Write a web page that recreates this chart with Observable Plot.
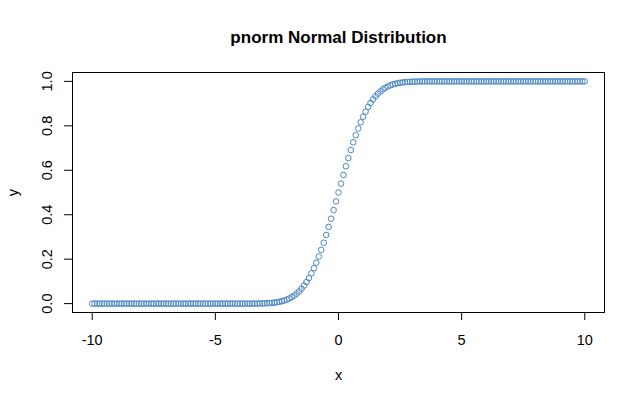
<!DOCTYPE html>
<html>
<head>
<meta charset="utf-8">
<script src="https://cdn.jsdelivr.net/npm/d3@7"></script>
<script src="https://cdn.jsdelivr.net/npm/@observablehq/plot@0.6"></script>
<style>
  html, body { margin: 0; padding: 0; background: white; }
</style>
</head>
<body>
<div id="chart"></div>
<script>
const titleText = "pnorm Normal Distribution";
const xLabel = "x";
const yLabel = "y";
const xTicks = [-10, -5, 0, 5, 10];
const xTickLabels = ["-10", "-5", "0", "5", "10"];
const yTicks = [0, 0.2, 0.4, 0.6, 0.8, 1.0];
const yTickLabels = ["0.0", "0.2", "0.4", "0.6", "0.8", "1.0"];

const xs = [
  -10.0, -9.9, -9.8, -9.7, -9.6, -9.5, -9.4, -9.3, -9.2, -9.1,
  -9.0, -8.9, -8.8, -8.7, -8.6, -8.5, -8.4, -8.3, -8.2, -8.1,
  -8.0, -7.9, -7.8, -7.7, -7.6, -7.5, -7.4, -7.3, -7.2, -7.1,
  -7.0, -6.9, -6.8, -6.7, -6.6, -6.5, -6.4, -6.3, -6.2, -6.1,
  -6.0, -5.9, -5.8, -5.7, -5.6, -5.5, -5.4, -5.3, -5.2, -5.1,
  -5.0, -4.9, -4.8, -4.7, -4.6, -4.5, -4.4, -4.3, -4.2, -4.1,
  -4.0, -3.9, -3.8, -3.7, -3.6, -3.5, -3.4, -3.3, -3.2, -3.1,
  -3.0, -2.9, -2.8, -2.7, -2.6, -2.5, -2.4, -2.3, -2.2, -2.1,
  -2.0, -1.9, -1.8, -1.7, -1.6, -1.5, -1.4, -1.3, -1.2, -1.1,
  -1.0, -0.9, -0.8, -0.7, -0.6, -0.5, -0.4, -0.3, -0.2, -0.1,
  0.0,
  0.1, 0.2, 0.3, 0.4, 0.5, 0.6, 0.7, 0.8, 0.9, 1.0,
  1.1, 1.2, 1.3, 1.4, 1.5, 1.6, 1.7, 1.8, 1.9, 2.0,
  2.1, 2.2, 2.3, 2.4, 2.5, 2.6, 2.7, 2.8, 2.9, 3.0,
  3.1, 3.2, 3.3, 3.4, 3.5, 3.6, 3.7, 3.8, 3.9, 4.0,
  4.1, 4.2, 4.3, 4.4, 4.5, 4.6, 4.7, 4.8, 4.9, 5.0,
  5.1, 5.2, 5.3, 5.4, 5.5, 5.6, 5.7, 5.8, 5.9, 6.0,
  6.1, 6.2, 6.3, 6.4, 6.5, 6.6, 6.7, 6.8, 6.9, 7.0,
  7.1, 7.2, 7.3, 7.4, 7.5, 7.6, 7.7, 7.8, 7.9, 8.0,
  8.1, 8.2, 8.3, 8.4, 8.5, 8.6, 8.7, 8.8, 8.9, 9.0,
  9.1, 9.2, 9.3, 9.4, 9.5, 9.6, 9.7, 9.8, 9.9, 10.0
];

const ys = [
  0, 0, 0, 0, 0, 0, 0, 0, 0, 0,
  0, 0, 0, 0, 0, 0, 0, 0, 0, 0,
  0, 0, 0, 0, 0, 0, 0, 0, 0, 0,
  0, 0, 0, 0, 0, 0, 0, 0, 0, 0,
  0, 0, 0, 0, 0, 0, 0, 0, 0, 0,
  0, 0, 0, 0, 0, 0, 0, 0, 0, 0,
  0, 0, 0, 0, 0, 0, 0, 0, 0.001, 0.001,
  0.001, 0.002, 0.003, 0.003, 0.005, 0.006, 0.008, 0.011, 0.014, 0.018,
  0.023, 0.029, 0.036, 0.045, 0.055, 0.067, 0.081, 0.097, 0.115, 0.136,
  0.159, 0.184, 0.212, 0.242, 0.274, 0.309, 0.345, 0.382, 0.421, 0.460,
  0.500,
  0.540, 0.579, 0.618, 0.655, 0.691, 0.726, 0.758, 0.788, 0.816, 0.841,
  0.864, 0.885, 0.903, 0.919, 0.933, 0.945, 0.955, 0.964, 0.971, 0.977,
  0.982, 0.986, 0.989, 0.992, 0.994, 0.995, 0.997, 0.997, 0.998, 0.999,
  0.999, 0.999, 1, 1, 1, 1, 1, 1, 1, 1,
  1, 1, 1, 1, 1, 1, 1, 1, 1, 1,
  1, 1, 1, 1, 1, 1, 1, 1, 1, 1,
  1, 1, 1, 1, 1, 1, 1, 1, 1, 1,
  1, 1, 1, 1, 1, 1, 1, 1, 1, 1,
  1, 1, 1, 1, 1, 1, 1, 1, 1, 1,
  1, 1, 1, 1, 1, 1, 1, 1, 1, 1
];

const data = xs.map((x, i) => ({x, y: ys[i]}));
const yTickData = yTicks.map((v, i) => ({v, label: yTickLabels[i]}));
const xTickFormat = d => xTickLabels[xTicks.indexOf(d)];

const chart = Plot.plot({
  width: 640,
  height: 401,
  marginTop: 72,
  marginLeft: 72,
  marginRight: 36,
  marginBottom: 89,
  x: {domain: [-10.8, 10.8]},
  y: {domain: [-0.04, 1.04]},
  style: {fontFamily: "'Liberation Sans', Arial, sans-serif", fontSize: "14px", color: "black", background: "white"},
  marks: [
    Plot.frame({stroke: "black"}),
    Plot.dot(data, {x: "x", y: "y", r: 2.8, stroke: "#4a86c4", strokeWidth: 1}),
    Plot.axisX({ticks: xTicks, tickSize: 8, tickPadding: 14, tickFormat: xTickFormat, label: null, fontSize: 14.5}),
    Plot.axisY({ticks: yTicks, tickSize: 8, tickFormat: () => "", label: null}),
    Plot.text(yTickData, {y: "v", text: "label", frameAnchor: "left", dx: -25, rotate: -90, textAnchor: "middle", lineAnchor: "middle", fontSize: 14.5}),
    Plot.text([titleText], {frameAnchor: "top", dy: -35, fontWeight: "bold", fontSize: 17, textAnchor: "middle", lineAnchor: "middle"}),
    Plot.text([xLabel], {frameAnchor: "bottom", dy: 63, fontSize: 14.5, textAnchor: "middle", lineAnchor: "middle"}),
    Plot.text([yLabel], {frameAnchor: "left", dx: -59, rotate: -90, fontSize: 14.5, textAnchor: "middle", lineAnchor: "middle"})
  ]
});
document.getElementById("chart").appendChild(chart);
</script>
</body>
</html>
